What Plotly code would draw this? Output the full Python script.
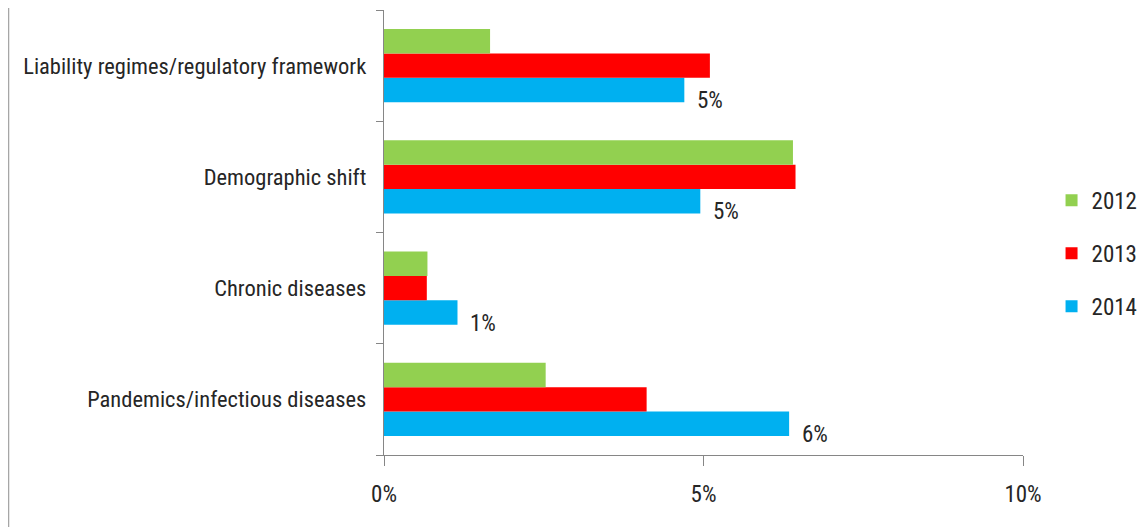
import plotly.graph_objects as go

categories = ["Liability regimes/regulatory framework", "Demographic shift",
              "Chronic diseases", "Pandemics/infectious diseases"]
v2012 = [1.66, 6.40, 0.68, 2.53]
v2013 = [5.10, 6.44, 0.67, 4.11]
v2014 = [4.70, 4.95, 1.15, 6.34]
x_ticks = [0, 5, 10]
x_tick_labels = ["0%", "5%", "10%"]

FONT = "Liberation Sans Narrow, Arial Narrow, Roboto Condensed, sans-serif"
TXT = "#262626"
AX = "#868686"

fig = go.Figure()
series = [("2014", v2014, "#00B0F0", 3), ("2013", v2013, "#FF0000", 2),
          ("2012", v2012, "#92D050", 1)]
for name, vals, col, rank in series:
    fig.add_trace(go.Bar(
        y=categories, x=vals, name=name, orientation="h",
        marker=dict(color=col, line=dict(width=0)),
        legendgroup=name, legendrank=rank,
    ))

# data labels for 2014 series
annotations = []
for cat, v in zip(categories, v2014):
    annotations.append(dict(
        x=v, y=cat, xref="x", yref="y", text=f"{round(v)}%", showarrow=False,
        xanchor="left", yanchor="middle", xshift=11, yshift=-35,
        font=dict(family=FONT, size=23, color=TXT)))

fig.update_layout(
    width=1138, height=519,
    margin=dict(l=376, r=123, t=2, b=72, autoexpand=False),
    paper_bgcolor="white", plot_bgcolor="white",
    barmode="group", bargap=0.34, bargroupgap=0,
    font=dict(family=FONT, size=23, color=TXT),
    legend=dict(xref="container", x=0.917, y=0.453, xanchor="left", yanchor="middle",
                traceorder="grouped", tracegroupgap=20,
                font=dict(family=FONT, size=23, color=TXT)),
    xaxis=dict(range=[0, 10], tickvals=x_ticks, ticktext=x_tick_labels,
               showgrid=False, zeroline=False, showline=True, linecolor=AX,
               linewidth=1.3, ticks="outside", ticklen=10, tickcolor=AX,
               tickwidth=1.3, ticklabelstandoff=8, automargin=False),
    yaxis=dict(categoryorder="array", categoryarray=categories[::-1],
               showgrid=False, showline=True, linecolor=AX, linewidth=1.3,
               ticks="outside", tickson="boundaries", ticklen=7, tickcolor=AX,
               tickwidth=1.3, ticklabelstandoff=12, automargin=False,
               tickfont=dict(family=FONT, size=22.5, color=TXT)),
    annotations=annotations,
    shapes=[dict(type="line", xref="paper", yref="paper", x0=-0.5876, x1=-0.5876,
                 y0=-0.2, y1=1.1, line=dict(color="#A6A6A6", width=1.5))],
)

fig.write_html("out.html", config={"displayModeBar": False})
